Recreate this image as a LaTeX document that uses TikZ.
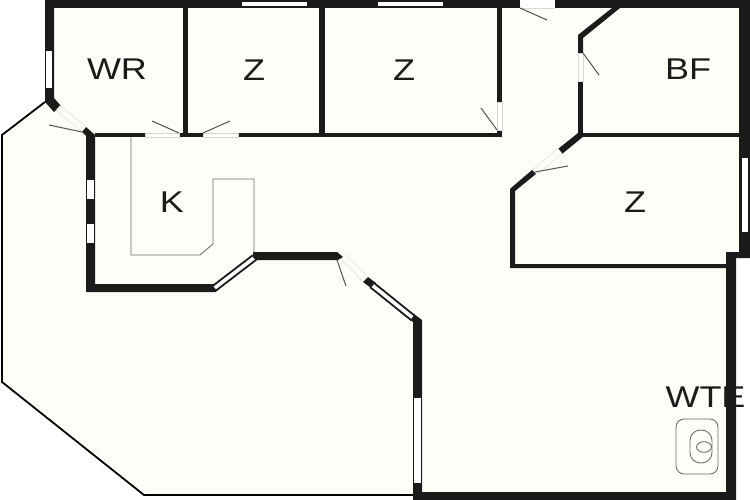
\documentclass[tikz,border=0pt]{standalone}
\usepackage{fontspec}
\setmainfont{Liberation Sans}
\definecolor{wallblack}{HTML}{1C1A1A}
\definecolor{floorcream}{HTML}{FEFEF8}
\definecolor{fixgrey}{HTML}{6E6E6A}
\definecolor{gapgrey}{HTML}{D8D8D2}
\newcommand{\slantwin}[3][wallblack]
	{
	\draw[#1,line width=7.5pt] (#2) -- (#3);
	\draw[white,line width=3.6pt] ($(#2)!1pt!(#3)$) -- ($(#3)!1pt!(#2)$);
	}
\newcommand{\opening}[2]
	{
	\draw[gapgrey,line width=7pt] (#1) -- (#2);
	\draw[floorcream,line width=6pt] (#1) -- (#2);
	}
\usetikzlibrary{calc}
\tikzset{
	wall/.style={fill=wallblack,draw=none},
	glass/.style={fill=white,draw=none},
	gap/.style={fill=white,draw=gapgrey,line width=.4pt},
	leaf/.style={draw=fixgrey!75!black,line width=1pt},
	fixture/.style={draw=fixgrey,line width=.9pt},
	roomlabel/.style={font=\fontsize{30}{30}\selectfont,text=wallblack,inner sep=0pt,anchor=base,xscale=1.2}
}

\begin{document}
\begin{tikzpicture}[x=1pt,y=-1pt]
\useasboundingbox (0,0) rectangle (750,500);

% floor
\fill[floorcream] (45,102) -- (45,0) -- (750,0) -- (750,258) -- (736,258) -- (736,500) -- (413,500) -- (413,495) -- (144,495) -- (2,382) -- (2,135) -- cycle;

% thin outer line
\draw[black,line width=1.8pt] (45,102) -- (2,135) -- (2,382) -- (144,495) -- (414,495);

% outer walls
\fill[wall] (45,0) rectangle (750,8);
\fill[wall] (45,0) -- (54,0) -- (54,98) -- (61,106) -- (54,112) -- (45,102) -- cycle;
\fill[wall] (739,0) -- (750,0) -- (750,258) -- (736,258) -- (736,500) -- (413,500) -- (413,492) -- (726,492) -- (726,252) -- (739,252) -- cycle;
\fill[wall] (413,322) -- (409,319) -- (414,314) -- (422,320) -- (422,492) -- (413,492) -- cycle;

% left wall and kitchen front
\fill[wall] (82,132) -- (86,127) -- (95,135) -- (95,284) -- (216,284) -- (216,292) -- (86,292) -- (86,136) -- cycle;
\fill[wall] (253,252) -- (337,252) -- (343,257) -- (338,260) -- (253,260) -- cycle;
\fill[wall] (363,282) -- (368,277) -- (376,283) -- (371,288) -- cycle;

% inner walls
\fill[wall] (95,133) rectangle (145,137);
\fill[wall] (179,133) rectangle (203,137);
\fill[wall] (238,133) rectangle (502,137);
\fill[wall] (183,8) rectangle (188,133);
\fill[wall] (319,8) rectangle (325,133);
\fill[wall] (497,8) rectangle (502,102);
\fill[wall] (497,130) rectangle (502,137);
\fill[wall] (612,8) -- (620,8) -- (583,38) -- (583,53) -- (578,53) -- (578,35) -- cycle;
\fill[wall] (578,81) rectangle (583,135);
\fill[wall] (578,133) -- (583,133) -- (584,136) -- (562,154) -- (558,149) -- cycle;
\fill[wall] (583,133.5) rectangle (739,137);
\fill[wall] (511,188) -- (532,170) -- (536,174) -- (515,191) -- (515,264) -- (726,264) -- (726,268) -- (510,268) -- (510,189) -- cycle;

% windows
\fill[glass] (46,51) rectangle (52,88);
\fill[glass] (242,2) rectangle (307,6);
\fill[glass] (378,2) rectangle (443,6);
\fill[glass] (87,180) rectangle (94,199);
\fill[glass] (87,224) rectangle (94,243);
\fill[glass] (414,398) rectangle (421,483);
\fill[glass] (742,158) rectangle (748,232);
\coordinate (kita) at (214,288.5);
\coordinate (kitb) at (254.5,257.5);
\slantwin{kita}{kitb}
\coordinate (liva) at (372,285);
\coordinate (livb) at (413,318);
\slantwin{liva}{livb}

% door openings
\coordinate (wra) at (58,108);
\coordinate (wrb) at (84,129);
\opening{wra}{wrb}
\coordinate (sita) at (344,257);
\coordinate (sitb) at (365,279);
\opening{sita}{sitb}
\coordinate (zra) at (535,172);
\coordinate (zrb) at (560,151);
\opening{zra}{zrb}
\fill[gap] (145,133) rectangle (179,137);
\fill[gap] (203,133) rectangle (238,137);
\fill[gap] (497.5,102) rectangle (502,130);
\fill[gap] (578,53) rectangle (583,81);
\fill[white] (520,0) rectangle (555,8);
\draw[gapgrey,line width=.4pt] (520,8) -- (555,8);

% door leaves
\draw[leaf] (49,125) -- (82,132);
\draw[leaf] (179,133) -- (152,121);
\draw[leaf] (203,133) -- (230,121);
\draw[leaf] (497,130) -- (481,108);
\draw[leaf] (520,8) -- (547,20);
\draw[leaf] (583,53) -- (599,75);
\draw[leaf] (535,172) -- (568,166);
\draw[leaf] (337,260) -- (346,286);

% kitchen counter
\draw[fixture] (131,137) -- (131,255) -- (200,255) -- (213,244) -- (213,179) -- (254,179) -- (254,252);

% toilet
\draw[fixture] (676,419) [rounded corners=8pt] rectangle (718,474);
\draw[fixture] (690,430) [rounded corners=10.5pt] rectangle (712,463);
\draw[fixture] (704,447) ellipse (7.5 and 5.3);

% room names
\node[roomlabel] (wr) at (117,80) {WR};
\node[roomlabel] (zone) at (254,81) {Z};
\node[roomlabel] (ztwo) at (404,81) {Z};
\node[roomlabel] (bf) at (688,80) {BF};
\node[roomlabel] (k) at (172,212) {K};
\node[roomlabel] (zthree) at (635,212) {Z};
\node[roomlabel] (wte) at (705.5,407) {WTE};

\end{tikzpicture}
\end{document}
